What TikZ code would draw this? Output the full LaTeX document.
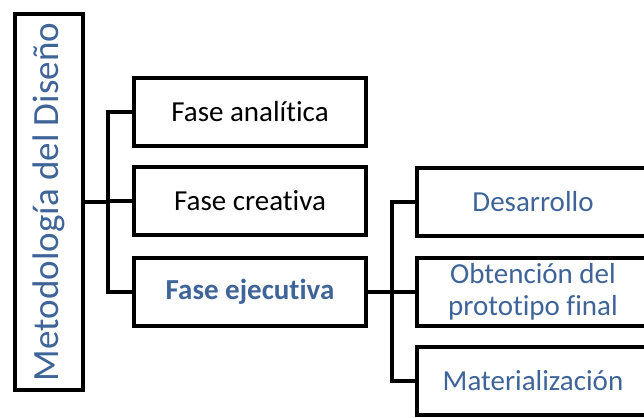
\documentclass[tikz,border=0pt]{standalone}
\usepackage{fontspec}
\setmainfont[Ligatures=NoCommon]{Carlito}
\definecolor{titleblue}{RGB}{62,100,152}
\begin{document}
\begin{tikzpicture}[x=1pt,y=1pt,
  box/.style={draw=black,line width=4pt,fill=white,rectangle,inner sep=0pt,
    minimum width=232pt,minimum height=68pt,align=center,
    font=\fontsize{29}{32}\selectfont},
  link/.style={draw=black,line width=4pt,line join=miter},
  bluetext/.style={text=titleblue}]
\useasboundingbox (0,0) rectangle (644,-417);
\clip (0,0) rectangle (644,-417);
\fill[white] (0,0) rectangle (644,-417);

% x positions of the two vertical buses
\coordinate (busA) at (108,0);
\coordinate (busB) at (392,0);

% root of the hierarchy, text set vertically
\node[box,minimum width=376pt,minimum height=68pt,rotate=90,bluetext,
  font=\fontsize{37}{40}\selectfont] (main) at (49,-202) {Metodología del Diseño};

% first level
\node[box] (b1) at (250,-112) {Fase analítica};
\node[box] (b2) at (250,-201) {Fase creativa};
\node[box,bluetext,font=\fontsize{29}{32}\selectfont\bfseries] (b3) at (250,-292) {Fase ejecutiva};

% second level under "Fase ejecutiva"
\node[box,bluetext] (c1) at (533,-202) {Desarrollo};
\node[box,bluetext] (c2) at (533,-292) {Obtención del\\prototipo final};
\node[box,bluetext] (c3) at (533,-381) {Materialización};

\draw[link] (main.south) -- (main.south -| busA);
\draw[link] (b1.west) -| (busA |- b3.west) -- (b3.west);
\draw[link] (busA |- b2.west) -- (b2.west);

\draw[link] (b3.east) -- (b3.east -| busB);
\draw[link] (c1.west) -| (busB |- c3.west) -- (c3.west);
\draw[link] (busB |- c2.west) -- (c2.west);
\end{tikzpicture}
\end{document}
